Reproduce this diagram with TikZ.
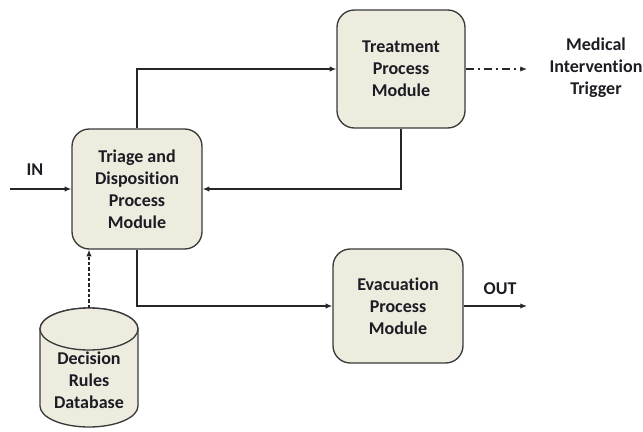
\documentclass[tikz,border=0pt]{standalone}
\usepackage{fontspec}
\setmainfont{Carlito}[Ligatures=NoCommon]
\usetikzlibrary{arrows.meta}
\definecolor{boxfill}{HTML}{EEEBDF}
\definecolor{boxline}{HTML}{3A3A3A}
\definecolor{txt}{HTML}{1C1C24}
\begin{document}
\begin{tikzpicture}[x=0.75pt,y=-0.75pt,
  textfont/.style={text=txt,font=\bfseries\fontsize{13.5}{16.5}\selectfont},
  module/.style={textfont,draw=boxline,line width=1pt,fill=boxfill,rounded corners=13pt,
    align=center,inner sep=0pt},
  label/.style={textfont,align=center,inner sep=0pt},
  flow/.style={draw=black!85,line width=0.9pt,-{Latex[length=5pt,width=4pt]}},
  drum/.style={draw=boxline,line width=1pt,fill=boxfill},
  capr/.style={x radius=36.75pt,y radius=15.75pt}]
\useasboundingbox (0,0) rectangle (643,432);

% process modules
\node[module,minimum width=97.5pt,minimum height=90pt] (tri) at (137,189)
  {Triage and\\Disposition\\Process\\Module};
\node[module,minimum width=96pt,minimum height=88.5pt] (treat) at (401,69)
  {Treatment\\Process\\Module};
\node[module,minimum width=97.5pt,minimum height=85.5pt] (evac) at (398,306)
  {Evacuation\\Process\\Module};

% database drum
\path[drum] (40,329) -- (40,406) arc[start angle=180,end angle=360,capr]
  -- (138,329) arc[start angle=0,end angle=180,capr] -- cycle;
\draw[drum] (89,329) ellipse[capr];
\coordinate (dbtop) at (89,308);
\node[label] (db) at (89,380) {Decision\\Rules\\Database};

\coordinate (in) at (10,189);
\coordinate (out) at (527,306);
\coordinate (mit) at (527,69);

\node[label] at (35,170) {IN};
\node[label] at (500,289) {OUT};
\node[label] (medlbl) at (596,68) {Medical\\Intervention\\Trigger};

\draw[flow] (in) -- (tri.west);
\draw[flow] (tri.north) |- (treat.west);
\draw[flow] (treat.south) |- (tri.east);
\draw[flow] (tri.south) |- (evac.west);
\draw[flow] (evac.east) -- (out);
\draw[flow,dash pattern=on 6pt off 3pt on 1.5pt off 3pt] (treat.east) -- (mit);
\draw[flow,dash pattern=on 2.5pt off 1.5pt] (dbtop) -- (dbtop |- tri.south);
\end{tikzpicture}
\end{document}
